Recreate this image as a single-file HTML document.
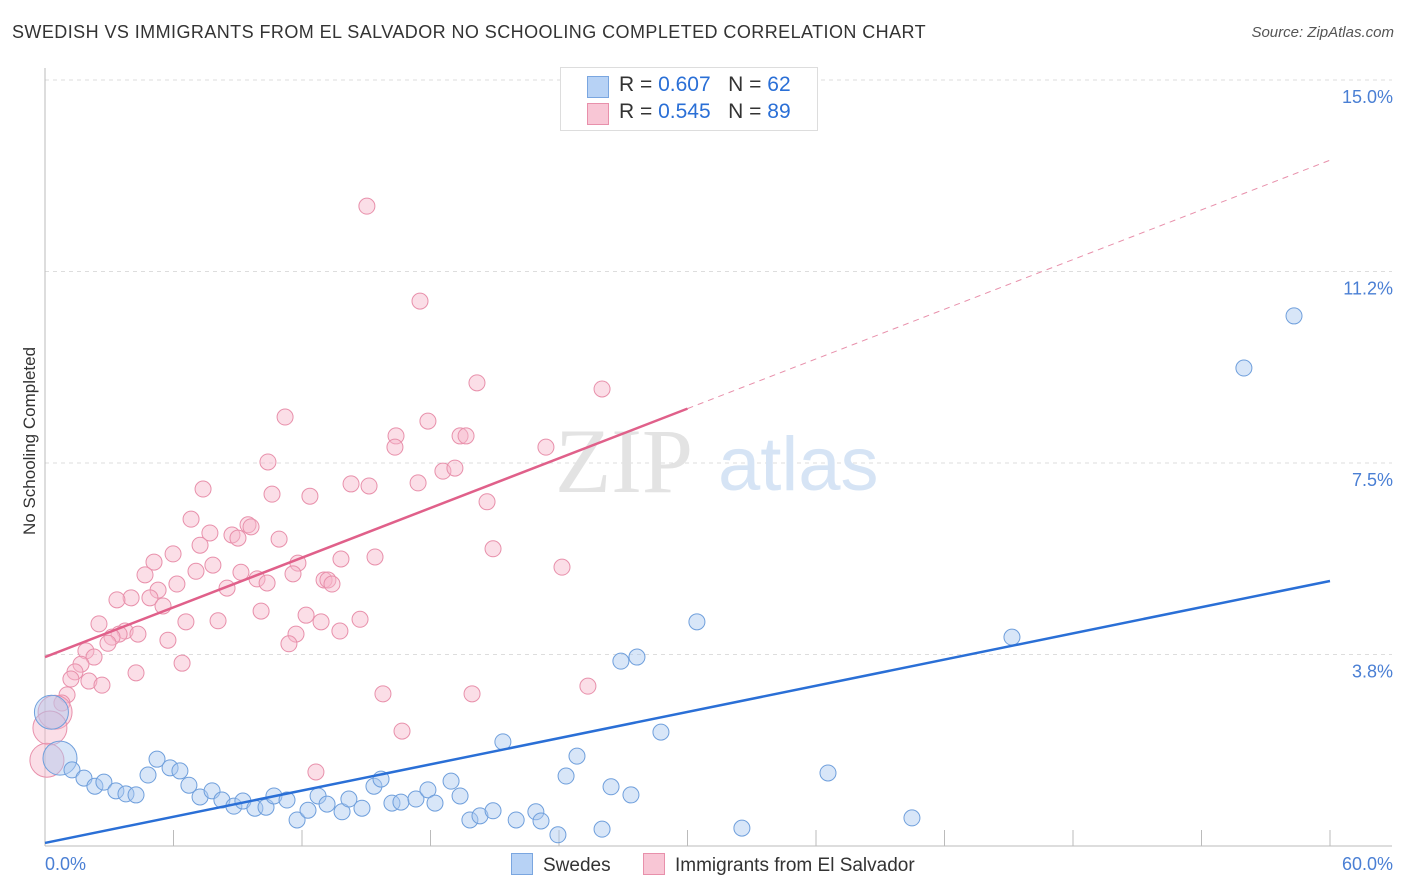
<!DOCTYPE html>
<html><head><meta charset="utf-8"><style>
body{margin:0;background:#fff;font-family:"Liberation Sans",sans-serif;}
#wrap{position:relative;width:1406px;height:892px;overflow:hidden}
.t{position:absolute;white-space:nowrap}
</style></head><body><div id="wrap">
<div class="t" style="left:12px;top:22px;font-size:18px;letter-spacing:0.43px;color:#333">SWEDISH VS IMMIGRANTS FROM EL SALVADOR NO SCHOOLING COMPLETED CORRELATION CHART</div>
<div class="t" style="right:12px;top:24px;font-size:15px;color:#555;font-style:italic">Source: ZipAtlas.com</div>
<div class="t" style="left:-50px;top:445px;font-size:17px;color:#333;transform:rotate(-90deg);width:160px;text-align:center">No Schooling Completed</div>
<svg id="svg" width="1406" height="892" style="position:absolute;left:0;top:0"></svg>
</div>
<script>
const xTicks=[0,6,12,18,24,30,36,42,48,54,60];
const yTicks=[3.75,7.5,11.25,15];
const yTickLabels=["3.8%","7.5%","11.2%","15.0%"];
const xTickLabels=["0.0%","60.0%"];
const blueX=[58.32,55.98,30.44,45.15,26.89,27.64,28.76,21.38,24.84,36.56,5.23,5.84,6.30,4.81,0.70,1.26,1.82,2.33,2.75,3.31,3.78,4.25,6.72,7.24,7.80,8.26,8.82,9.24,9.80,10.32,10.69,11.30,11.77,12.28,12.75,13.17,13.87,14.19,14.80,15.36,15.69,16.20,16.62,17.32,17.88,18.21,18.96,19.38,19.84,20.31,20.92,22.00,22.92,23.16,23.95,24.33,26.01,26.43,27.36,32.54,40.48,0.3];
const blueY=[10.38,9.36,4.39,4.09,3.62,3.70,2.23,2.04,1.76,1.43,1.70,1.53,1.47,1.39,1.72,1.49,1.33,1.17,1.25,1.08,1.02,1.00,1.19,0.96,1.08,0.90,0.78,0.88,0.74,0.76,0.98,0.90,0.51,0.70,0.98,0.82,0.67,0.92,0.74,1.17,1.31,0.84,0.86,0.92,1.10,0.84,1.27,0.98,0.51,0.59,0.69,0.51,0.67,0.49,0.22,1.37,0.33,1.16,1.00,0.35,0.55,2.62];
const blueBig=[14,61];
const pinkX=[15.03,17.51,20.17,26.01,11.21,17.88,16.39,19.38,19.66,16.34,23.39,10.41,18.58,19.14,7.38,14.29,15.13,17.42,10.60,12.37,20.64,6.82,7.70,9.48,9.62,8.73,9.01,10.93,7.24,20.92,5.09,5.98,13.82,15.41,24.14,7.84,11.81,4.67,7.05,9.15,9.90,11.58,10.37,13.03,13.21,6.16,13.40,5.28,8.50,4.90,4.02,3.36,5.51,10.09,12.19,14.71,8.08,6.58,12.89,2.52,3.74,3.46,4.34,13.77,11.72,3.13,5.74,2.94,11.39,1.91,2.29,6.40,1.68,1.40,4.25,2.05,1.21,2.66,25.35,15.78,19.94,1.03,0.79,16.67,12.65,0.47,0.23,0.09];
const pinkY=[12.53,10.67,9.07,8.95,8.40,8.32,8.03,8.03,8.03,7.81,7.81,7.52,7.34,7.40,6.99,7.09,7.05,7.11,6.89,6.85,6.74,6.40,6.13,6.29,6.25,6.09,6.03,6.01,5.89,5.82,5.56,5.72,5.62,5.66,5.46,5.50,5.54,5.31,5.38,5.36,5.23,5.33,5.15,5.21,5.21,5.13,5.13,5.01,5.05,4.86,4.86,4.82,4.70,4.60,4.52,4.44,4.41,4.39,4.39,4.35,4.21,4.15,4.15,4.21,4.15,4.09,4.03,3.97,3.96,3.82,3.70,3.58,3.56,3.41,3.39,3.23,3.27,3.15,3.13,2.98,2.98,2.96,2.80,2.25,1.45,2.62,2.31,1.68];
const pinkBig=[85,86,87];
const blueTrend=[0.06,5.19];
const pinkTrend=[3.70,13.43];
const pinkSolidEnd=30;

const X=v=>45+v/60*1285, Y=v=>846-v/3.75*191.5;
const svg=document.getElementById('svg');const NS='http://www.w3.org/2000/svg';
function mk(tag,attrs,parent){const e=document.createElementNS(NS,tag);for(const k in attrs)e.setAttribute(k,attrs[k]);(parent||svg).appendChild(e);return e;}
yTicks.forEach((v,i)=>{const l=mk('line',{x1:45,x2:1392,y1:Y(v),y2:Y(v),stroke:'#ddd','stroke-dasharray':'4,4'});


const t=mk('text',{x:1393,y:Y(v)+23,'text-anchor':'end','font-size':18,fill:'#4a7fd4','font-family':'Liberation Sans'});t.textContent=yTickLabels[i];

});
const ax=mk('line',{x1:45,x2:1392,y1:846,y2:846,stroke:'#bbb'});


const ay=mk('line',{x1:45,x2:45,y1:68,y2:846,stroke:'#bbb'});


xTicks.forEach(v=>{const l=mk('line',{x1:X(v),x2:X(v),y1:830,y2:846,stroke:'#bbb'});

});
[[0,'start',45],[60,'end',1393]].forEach((a,i)=>{const t=mk('text',{x:a[2],y:870,'text-anchor':a[1],'font-size':18,fill:'#4a7fd4','font-family':'Liberation Sans'});t.textContent=xTickLabels[i];

});
const w=mk('text',{x:555,y:492,'font-size':92,fill:'#e3e3e3','font-family':'Liberation Serif'});w.textContent='ZIP';


const w2=mk('text',{x:718,y:490,'font-size':76,fill:'#d6e4f5','font-family':'Liberation Sans'});w2.textContent='atlas';


function pts(xs,ys,big,fill,stroke,name){xs.forEach((x,i)=>{const r=big.includes(i)?17:8;const c=mk('circle',{cx:X(x),cy:Y(ys[i]),r:r,fill:fill,'fill-opacity':0.45,stroke:stroke,'stroke-width':1});

});}
pts(pinkX,pinkY,pinkBig,'#f7b6c9','#e890ab','el-salvador-point');
pts(blueX,blueY,blueBig,'#a9c8ef','#6f9fdc','swedes-point');
const pt=v=>pinkTrend[0]+(pinkTrend[1]-pinkTrend[0])*v/60;
const l1=mk('line',{x1:X(0),y1:Y(pt(0)),x2:X(pinkSolidEnd),y2:Y(pt(pinkSolidEnd)),stroke:'#e0608a','stroke-width':2.5});


const l2=mk('line',{x1:X(pinkSolidEnd),y1:Y(pt(pinkSolidEnd)),x2:X(60),y2:Y(pt(60)),stroke:'#e890ab','stroke-width':1,'stroke-dasharray':'6,5'});


const l3=mk('line',{x1:X(0),y1:Y(blueTrend[0]),x2:X(60),y2:Y(blueTrend[1]),stroke:'#2a6fd6','stroke-width':2.5});


</script>
<div class="t" style="left:560px;top:67px;width:256px;height:62px;border:1px solid #ddd;background:#fff;font-size:21px;color:#333">
<div style="position:absolute;left:26px;top:8px;width:20px;height:20px;background:#b7d2f5;border:1px solid #7aa6e0"></div>
<div style="position:absolute;left:58px;top:5px">R = <span style="color:#2a6fd6">0.607</span>&nbsp;&nbsp;&nbsp;N = <span style="color:#2a6fd6">62</span></div>
<div style="position:absolute;left:26px;top:35px;width:20px;height:20px;background:#f8c6d5;border:1px solid #e890ab"></div>
<div style="position:absolute;left:58px;top:32px">R = <span style="color:#2a6fd6">0.545</span>&nbsp;&nbsp;&nbsp;N = <span style="color:#2a6fd6">89</span></div>
</div>
<div class="t" style="left:511px;top:853px;font-size:19px;color:#333"><span style="display:inline-block;width:20px;height:20px;background:#b7d2f5;border:1px solid #7aa6e0;vertical-align:-4px;margin-right:10px"></span>Swedes</div>
<div class="t" style="left:643px;top:853px;font-size:19px;color:#333"><span style="display:inline-block;width:20px;height:20px;background:#f8c6d5;border:1px solid #e890ab;vertical-align:-4px;margin-right:10px"></span>Immigrants from El Salvador</div>
</body></html>
